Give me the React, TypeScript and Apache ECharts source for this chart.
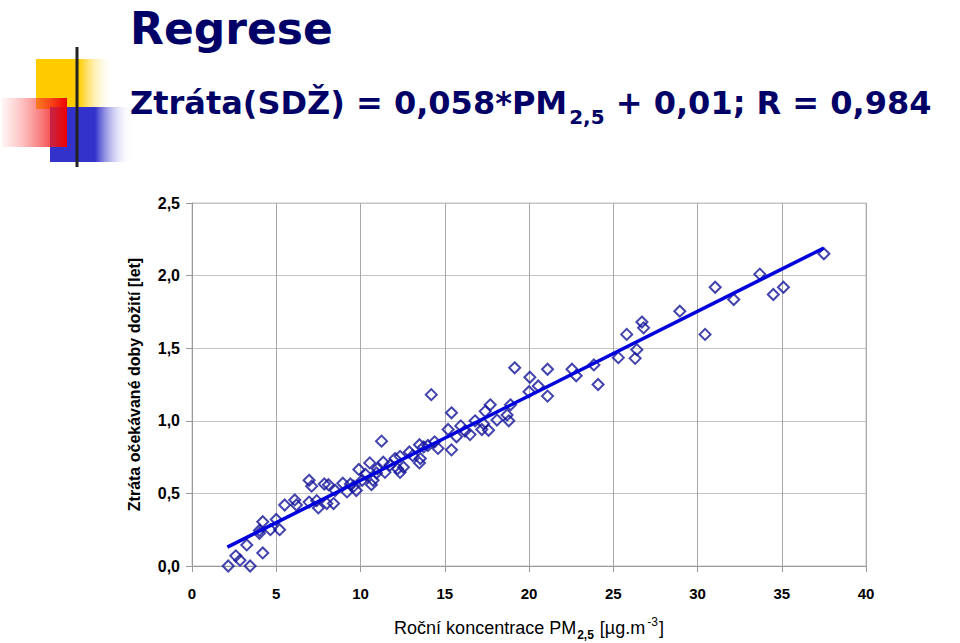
import React, { useEffect, useRef } from "react";
import * as echarts from "echarts";

// Scatter data: annual PM2.5 concentration vs. loss of life expectancy
const pmValues: number[] = [
  2.15, 2.6, 2.85, 3.45, 3.25, 4.2, 4.0, 4.2, 4.0, 4.65, 5.0, 5.2, 5.5, 6.1, 6.2,
  6.95, 7.1, 6.95, 7.4, 7.5, 7.85, 8.1, 8.0, 8.4, 8.5, 8.95, 9.2, 9.4, 9.75, 9.9,
  10.1, 10.55, 10.65, 10.75, 10.95, 11.25, 11.35, 11.45, 11.75, 12.05, 12.35, 12.35,
  12.55, 12.9, 13.5, 13.5, 13.55, 13.75, 14.2, 14.4, 14.6, 15.4, 15.2, 15.4, 15.7,
  15.95, 16.5, 16.8, 17.2, 17.3, 17.4, 17.7, 17.6, 18.1, 18.7, 18.8, 18.9, 19.15,
  20.05, 20.0, 20.55, 21.1, 21.1, 22.55, 22.8, 23.85, 24.1, 25.3, 25.8, 26.3, 26.4,
  26.7, 26.8, 28.95, 30.45, 31.05, 32.15, 33.7, 34.5, 35.1, 37.5,
  9.6, 10.3, 11.0, 12.2, 13.1, 14.0, 16.2,
];
const lossValues: number[] = [
  0.0, 0.07, 0.04, 0.0, 0.145, 0.09, 0.225, 0.305, 0.245, 0.25, 0.32, 0.25, 0.42, 0.455, 0.42,
  0.59, 0.55, 0.44, 0.45, 0.4, 0.565, 0.56, 0.43, 0.43, 0.52, 0.57, 0.51, 0.565, 0.52, 0.665,
  0.59, 0.71, 0.56, 0.59, 0.64, 0.86, 0.715, 0.645, 0.695, 0.74, 0.755, 0.645,
  0.68, 0.785, 0.835, 0.71, 0.74, 0.82, 1.18, 0.855, 0.81, 1.055, 0.94, 0.8, 0.89,
  0.965, 0.905, 1.0, 0.94, 0.98, 1.065, 1.11, 0.935, 1.005, 1.04, 1.0, 1.11, 1.365,
  1.3, 1.2, 1.24, 1.355, 1.17, 1.355, 1.31, 1.385, 1.25, 1.435, 1.595, 1.43, 1.49,
  1.68, 1.64, 1.755, 1.595, 1.92, 1.835, 2.01, 1.87, 1.92, 2.15,
  0.55, 0.63, 0.67, 0.67, 0.76, 0.83, 0.93,
];
// Regression line end points
const fitX: number[] = [2.1, 37.5];
const fitY: number[] = [0.13, 2.19];

const xTicks = { min: 0, max: 40, interval: 5 };
const yTicks = { min: 0, max: 2.5, interval: 0.5 };

const titleText = "Regrese";
const subtitleParts = ["Ztráta(SDŽ) = 0,058*PM", "2,5", " + 0,01; R = 0,984"];
const yAxisName = "Ztráta očekávané doby dožití [let]";
const xAxisNameParts = ["Roční koncentrace PM", "2,5", " [µg.m", "-3", "]"];

export default function App() {
  const ref = useRef<HTMLDivElement>(null);
  useEffect(() => {
    if (!ref.current) return;
    const chart = echarts.init(ref.current, null, { renderer: "svg" });
    const points = pmValues.map((x, i) => [x, lossValues[i]]);
    const fit = fitX.map((x, i) => [x, fitY[i]]);
    const navy = "#000066";
    chart.setOption({
      animation: false,
      backgroundColor: "#ffffff",
      grid: {
        left: 192,
        right: 94,
        top: 203,
        bottom: 77,
        show: true,
        borderColor: "#c4c4c4",
        borderWidth: 1,
        containLabel: false,
        outerBoundsMode: "none",
      },
      xAxis: {
        type: "value",
        min: xTicks.min,
        max: xTicks.max,
        interval: xTicks.interval,
        axisLine: { show: true, lineStyle: { color: "#9a9a9a", width: 1 } },
        axisTick: { show: true, length: 6, lineStyle: { color: "#9a9a9a" } },
        splitLine: { show: true, lineStyle: { color: "#a8a8a8", width: 1 } },
        axisLabel: {
          margin: 20,
          color: "#000",
          fontFamily: "Liberation Sans, Arial, sans-serif",
          fontWeight: "bold",
          fontSize: 15,
        },
        name: `{n|${xAxisNameParts[0]}}{sub|${xAxisNameParts[1]}}{n| ${xAxisNameParts[2].trim()}}{sup|${xAxisNameParts[3]}}{n|${xAxisNameParts[4]}}`,
        nameLocation: "middle",
        nameGap: 50,
        nameTextStyle: {
          rich: {
            n: { fontSize: 18, fontFamily: "Liberation Sans, Arial, sans-serif", color: "#000", verticalAlign: "bottom", lineHeight: 21 },
            sub: { fontSize: 12, fontFamily: "Liberation Sans, Arial, sans-serif", fontWeight: "bold", color: "#000", verticalAlign: "bottom", lineHeight: 14, padding: [0, 1, -4, 1] },
            sup: { fontSize: 12, fontFamily: "Liberation Sans, Arial, sans-serif", color: "#000", verticalAlign: "top", lineHeight: 14, padding: [0, 1, 0, 2] },
          },
        },
      },
      yAxis: {
        type: "value",
        min: yTicks.min,
        max: yTicks.max,
        interval: yTicks.interval,
        axisLine: { show: true, lineStyle: { color: "#9a9a9a", width: 1 } },
        axisTick: { show: true, length: 6, lineStyle: { color: "#9a9a9a" } },
        splitLine: { show: true, lineStyle: { color: "#c4c4c4", width: 1 } },
        axisLabel: {
          margin: 12,
          color: "#000",
          fontFamily: "Liberation Sans, Arial, sans-serif",
          fontWeight: "bold",
          fontSize: 16,
          formatter: (v: number) => v.toFixed(1).replace(".", ","),
        },
        name: yAxisName,
        nameLocation: "middle",
        nameGap: 50,
        nameRotate: 90,
        nameTextStyle: {
          color: "#000",
          fontFamily: "Liberation Sans, Arial, sans-serif",
          fontWeight: "bold",
          fontSize: 16,
        },
      },
      series: [
        {
          type: "scatter",
          data: points,
          symbol: "diamond",
          symbolSize: 11,
          itemStyle: { color: "rgba(0,0,0,0)", borderColor: "#14149a", borderWidth: 2 },
          z: 2,
        },
        {
          type: "line",
          data: fit,
          symbol: "none",
          lineStyle: { color: "#0000dd", width: 3.5 },
          z: 3,
        },
      ],
      graphic: [
        {
          type: "rect",
          shape: { x: 36, y: 59, width: 78, height: 50 },
          style: {
            fill: new echarts.graphic.LinearGradient(0, 0, 1, 0, [
              { offset: 0, color: "#ffcc00" },
              { offset: 0.55, color: "#ffcc00" },
              { offset: 1, color: "rgba(255,255,255,0)" },
            ]),
          },
          z: 1,
        },
        {
          type: "rect",
          shape: { x: 50, y: 107, width: 82, height: 55 },
          style: {
            fill: new echarts.graphic.LinearGradient(0, 0, 1, 0, [
              { offset: 0, color: "#3333cc" },
              { offset: 0.55, color: "#3333cc" },
              { offset: 1, color: "rgba(255,255,255,0)" },
            ]),
          },
          z: 2,
        },
        {
          type: "rect",
          shape: { x: 2, y: 98, width: 65, height: 49 },
          style: {
            fill: new echarts.graphic.LinearGradient(0, 0, 1, 0, [
              { offset: 0, color: "rgba(255,120,120,0.08)" },
              { offset: 1, color: "rgba(238,0,0,1)" },
            ]),
          },
          z: 3,
        },
        {
          type: "line",
          shape: { x1: 39, y1: 138, x2: 960, y2: 138 },
          style: {
            lineWidth: 3,
            stroke: new echarts.graphic.LinearGradient(0, 0, 1, 0, [
              { offset: 0, color: "#222" },
              { offset: 0.3, color: "#999" },
              { offset: 1, color: "rgba(220,220,220,0)" },
            ]),
          },
          z: 4,
        },
        {
          type: "line",
          shape: { x1: 77, y1: 47, x2: 77, y2: 167 },
          style: { lineWidth: 3, stroke: "#222" },
          z: 5,
        },
        {
          type: "text",
          x: 130,
          y: 28,
          style: {
            text: titleText,
            fill: navy,
            font: "bold 44px 'DejaVu Sans', sans-serif",
            verticalAlign: "middle",
            align: "left",
          },
          z: 6,
        },
        {
          type: "text",
          x: 130,
          y: 100,
          style: {
            text: `{n|${subtitleParts[0]}}{s|${subtitleParts[1]}}{n|${subtitleParts[2]}}`,
            verticalAlign: "middle",
            align: "left",
            rich: {
              n: { fill: navy, fontFamily: "'DejaVu Sans', sans-serif", fontWeight: "bold", fontSize: 32, verticalAlign: "bottom", lineHeight: 38 },
              s: { fill: navy, fontFamily: "'DejaVu Sans', sans-serif", fontWeight: "bold", fontSize: 20, verticalAlign: "bottom", lineHeight: 38, padding: [0, 0, -8, 2] },
            },
          },
          z: 6,
        },
      ],
    });
    return () => chart.dispose();
  }, []);
  return (
    <div
      ref={ref}
      style={{ position: "fixed", left: 0, top: 0, width: 960, height: 643 }}
    />
  );
}
